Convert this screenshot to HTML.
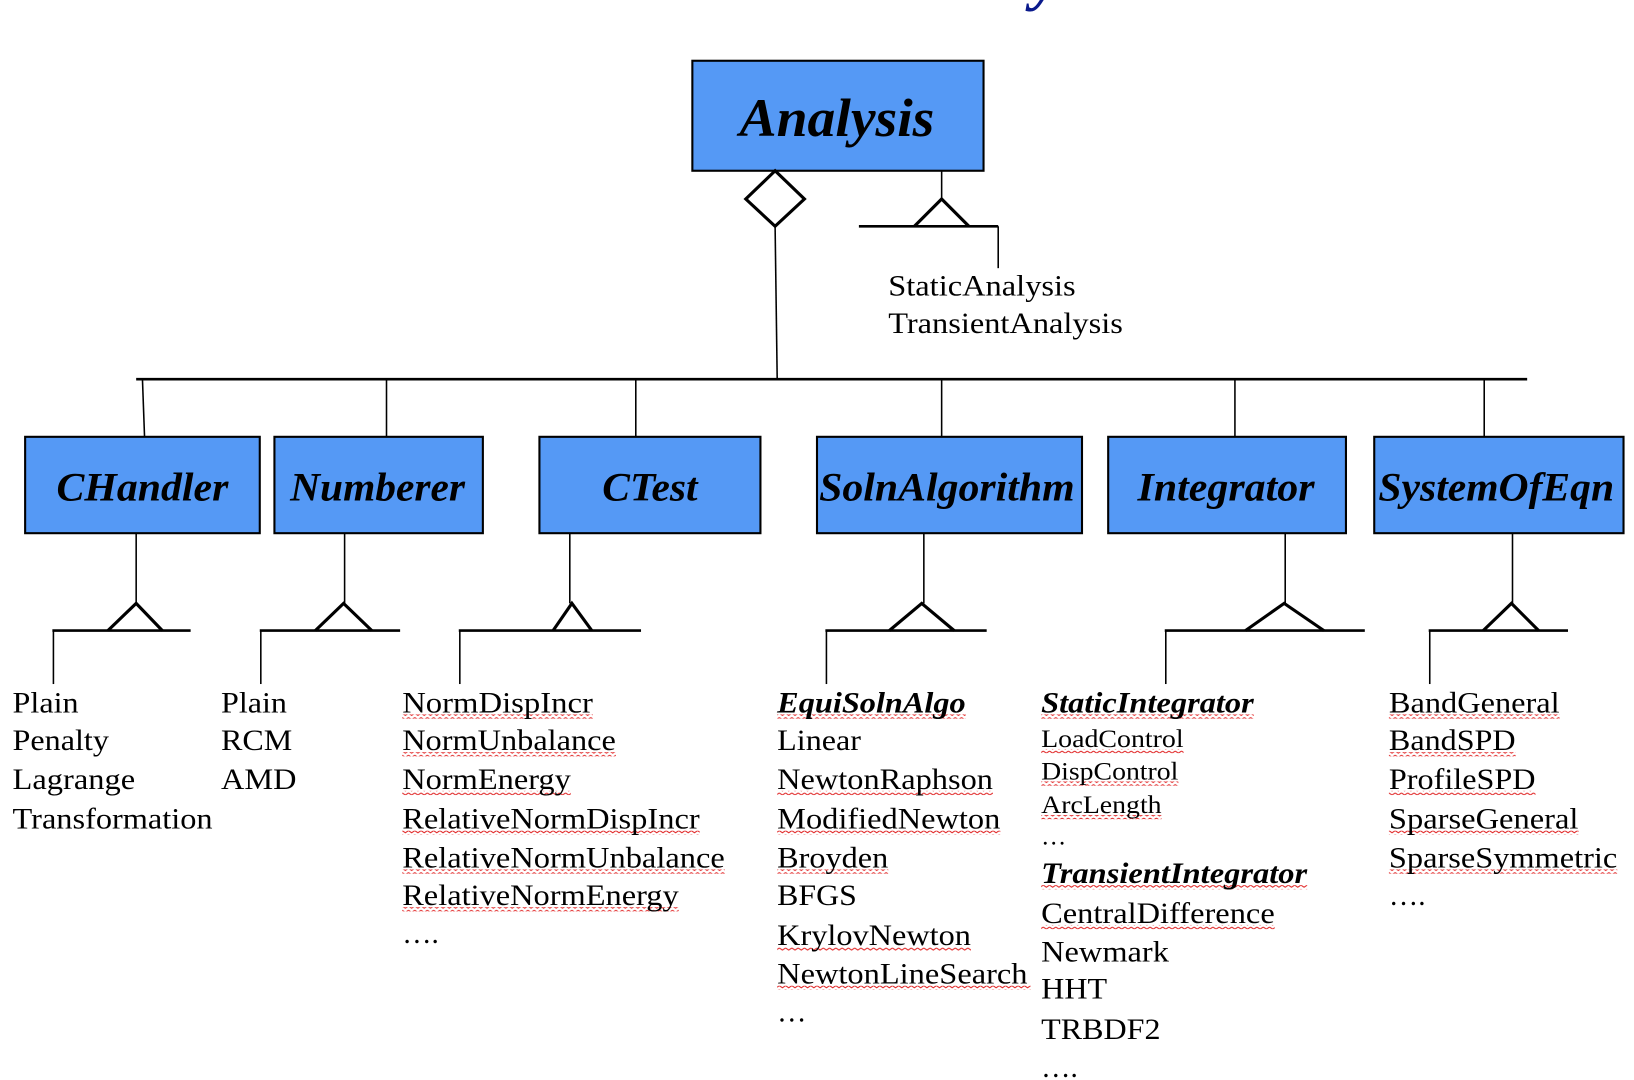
<!DOCTYPE html>
<html><head><meta charset="utf-8"><style>html,body{margin:0;padding:0;background:#fff}svg{display:block}</style></head>
<body>
<svg width="1634" height="1080" viewBox="0 0 1560 1031" preserveAspectRatio="none" xmlns="http://www.w3.org/2000/svg">
<defs>
<pattern id="w" width="6" height="4" patternUnits="userSpaceOnUse"><path d="M0 1 L3 3 L6 1" fill="none" stroke="#e02020" stroke-width="1"/></pattern>
</defs>
<rect width="1560" height="1031" fill="#fff"/>
<text x="985" y="-2" font-family="Liberation Serif, serif" font-style="italic" font-weight="bold" font-size="60" fill="#0a1a8c">y</text>
<g stroke="#000" fill="#5599f5" stroke-width="2">
<rect x="661" y="58" width="278" height="105"/>
<rect x="24" y="417" width="224" height="92"/>
<rect x="262" y="417" width="199" height="92"/>
<rect x="515" y="417" width="211" height="92"/>
<rect x="780" y="417" width="253" height="92"/>
<rect x="1058" y="417" width="227" height="92"/>
<rect x="1312" y="417" width="238" height="92"/>
</g>
<g stroke="#000" fill="none" stroke-width="1.5">
<polygon points="740,163 768,190 740,216 712,190" stroke-width="3" fill="#fff"/>
<line x1="740" y1="216" x2="742" y2="362"/>
<line x1="899" y1="163" x2="899" y2="190"/>
<polyline points="873,216 899,190 925,216" stroke-width="3"/>
<line x1="820" y1="216" x2="953" y2="216" stroke-width="2.5"/>
<line x1="953" y1="216" x2="953" y2="256"/>
<line x1="130" y1="362" x2="1458" y2="362" stroke-width="2.5"/>
<line x1="136" y1="362" x2="138" y2="417"/>
<line x1="369" y1="362" x2="369" y2="417"/>
<line x1="607" y1="362" x2="607" y2="417"/>
<line x1="899" y1="362" x2="899" y2="417"/>
<line x1="1179" y1="362" x2="1179" y2="417"/>
<line x1="1417" y1="362" x2="1417" y2="417"/>
<line x1="130" y1="509" x2="130" y2="576"/><polyline points="103,602 130,576 155,602" stroke-width="3"/><line x1="50" y1="602" x2="182" y2="602" stroke-width="2.5"/><line x1="51" y1="602" x2="51" y2="653"/>
<line x1="329" y1="509" x2="329" y2="576"/><polyline points="301,602 328,576 355,602" stroke-width="3"/><line x1="248" y1="602" x2="382" y2="602" stroke-width="2.5"/><line x1="249" y1="602" x2="249" y2="653"/>
<line x1="544" y1="509" x2="544" y2="576"/><polyline points="528,602 546,576 565,602" stroke-width="3"/><line x1="438" y1="602" x2="612" y2="602" stroke-width="2.5"/><line x1="439" y1="602" x2="439" y2="653"/>
<line x1="882" y1="509" x2="882" y2="576"/><polyline points="849,602 880,576 911,602" stroke-width="3"/><line x1="788" y1="602" x2="942" y2="602" stroke-width="2.5"/><line x1="789" y1="602" x2="789" y2="653"/>
<line x1="1227" y1="509" x2="1227" y2="576"/><polyline points="1189,602 1226,576 1264,602" stroke-width="3"/><line x1="1112" y1="602" x2="1303" y2="602" stroke-width="2.5"/><line x1="1113" y1="602" x2="1113" y2="653"/>
<line x1="1444" y1="509" x2="1444" y2="576"/><polyline points="1416,602 1443,576 1469,602" stroke-width="3"/><line x1="1364" y1="602" x2="1497" y2="602" stroke-width="2.5"/><line x1="1365" y1="602" x2="1365" y2="653"/>
</g>
<g font-family="Liberation Serif, serif" font-style="italic" font-weight="bold" fill="#000" lengthAdjust="spacingAndGlyphs">
<text x="706" y="130" font-size="52" textLength="186" lengthAdjust="spacingAndGlyphs">Analysis</text>
<text x="54" y="478" font-size="38" textLength="164" lengthAdjust="spacingAndGlyphs">CHandler</text>
<text x="277" y="478" font-size="38" textLength="167" lengthAdjust="spacingAndGlyphs">Numberer</text>
<text x="575" y="478" font-size="38" textLength="91" lengthAdjust="spacingAndGlyphs">CTest</text>
<text x="782" y="478" font-size="38" textLength="244" lengthAdjust="spacingAndGlyphs">SolnAlgorithm</text>
<text x="1086" y="478" font-size="38" textLength="169" lengthAdjust="spacingAndGlyphs">Integrator</text>
<text x="1316" y="478" font-size="38" textLength="225" lengthAdjust="spacingAndGlyphs">SystemOfEqn</text>
</g>
<g fill="url(#w)">
<rect x="384" y="682" width="182" height="4"/><rect x="384" y="718" width="204" height="4"/><rect x="384" y="755" width="161" height="4"/><rect x="384" y="793" width="284" height="4"/><rect x="384" y="830" width="308" height="4"/><rect x="384" y="866" width="264" height="4"/>
<rect x="742" y="682" width="180" height="4"/><rect x="742" y="755" width="206" height="4"/><rect x="742" y="793" width="213" height="4"/><rect x="742" y="830" width="106" height="4"/><rect x="742" y="904" width="185" height="4"/><rect x="742" y="941" width="242" height="4"/>
<rect x="994" y="682" width="203" height="4"/><rect x="994" y="715" width="136" height="4"/><rect x="994" y="746" width="131" height="4"/><rect x="994" y="778" width="115" height="4"/><rect x="994" y="845" width="254" height="4"/><rect x="994" y="883" width="223" height="4"/>
<rect x="1326" y="682" width="163" height="4"/><rect x="1326" y="718" width="121" height="4"/><rect x="1326" y="755" width="140" height="4"/><rect x="1326" y="793" width="181" height="4"/><rect x="1326" y="830" width="218" height="4"/>
</g>
<g font-family="Liberation Serif, serif" font-size="28" fill="#000">
<text x="848" y="282" textLength="179" lengthAdjust="spacingAndGlyphs">StaticAnalysis</text>
<text x="848" y="318" textLength="224" lengthAdjust="spacingAndGlyphs">TransientAnalysis</text>
<text x="12" y="680" textLength="63" lengthAdjust="spacingAndGlyphs">Plain</text>
<text x="12" y="716" textLength="92" lengthAdjust="spacingAndGlyphs">Penalty</text>
<text x="12" y="753" textLength="117" lengthAdjust="spacingAndGlyphs">Lagrange</text>
<text x="12" y="791" textLength="191" lengthAdjust="spacingAndGlyphs">Transformation</text>
<text x="211" y="680" textLength="63" lengthAdjust="spacingAndGlyphs">Plain</text>
<text x="211" y="716" textLength="68" lengthAdjust="spacingAndGlyphs">RCM</text>
<text x="211" y="753" textLength="72" lengthAdjust="spacingAndGlyphs">AMD</text>
<text x="384" y="680" textLength="182" lengthAdjust="spacingAndGlyphs">NormDispIncr</text>
<text x="384" y="716" textLength="204" lengthAdjust="spacingAndGlyphs">NormUnbalance</text>
<text x="384" y="753" textLength="161" lengthAdjust="spacingAndGlyphs">NormEnergy</text>
<text x="384" y="791" textLength="284" lengthAdjust="spacingAndGlyphs">RelativeNormDispIncr</text>
<text x="384" y="828" textLength="308" lengthAdjust="spacingAndGlyphs">RelativeNormUnbalance</text>
<text x="384" y="864" textLength="264" lengthAdjust="spacingAndGlyphs">RelativeNormEnergy</text>
<text x="384" y="900">….</text>
<text x="742" y="680" font-weight="bold" font-style="italic" textLength="180" lengthAdjust="spacingAndGlyphs">EquiSolnAlgo</text>
<text x="742" y="716" textLength="80" lengthAdjust="spacingAndGlyphs">Linear</text>
<text x="742" y="753" textLength="206" lengthAdjust="spacingAndGlyphs">NewtonRaphson</text>
<text x="742" y="791" textLength="213" lengthAdjust="spacingAndGlyphs">ModifiedNewton</text>
<text x="742" y="828" textLength="106" lengthAdjust="spacingAndGlyphs">Broyden</text>
<text x="742" y="864" textLength="76" lengthAdjust="spacingAndGlyphs">BFGS</text>
<text x="742" y="902" textLength="185" lengthAdjust="spacingAndGlyphs">KrylovNewton</text>
<text x="742" y="939" textLength="239" lengthAdjust="spacingAndGlyphs">NewtonLineSearch</text>
<text x="742" y="975">…</text>
<text x="994" y="680" font-weight="bold" font-style="italic" textLength="203" lengthAdjust="spacingAndGlyphs">StaticIntegrator</text>
<text x="994" y="713" font-size="24" textLength="136" lengthAdjust="spacingAndGlyphs">LoadControl</text>
<text x="994" y="744" font-size="24" textLength="131" lengthAdjust="spacingAndGlyphs">DispControl</text>
<text x="994" y="776" font-size="24" textLength="115" lengthAdjust="spacingAndGlyphs">ArcLength</text>
<text x="994" y="806" font-size="24">…</text>
<text x="994" y="843" font-weight="bold" font-style="italic" textLength="254" lengthAdjust="spacingAndGlyphs">TransientIntegrator</text>
<text x="994" y="881" textLength="223" lengthAdjust="spacingAndGlyphs">CentralDifference</text>
<text x="994" y="918" textLength="122" lengthAdjust="spacingAndGlyphs">Newmark</text>
<text x="994" y="953" textLength="63" lengthAdjust="spacingAndGlyphs">HHT</text>
<text x="994" y="992" textLength="114" lengthAdjust="spacingAndGlyphs">TRBDF2</text>
<text x="994" y="1028">….</text>
<text x="1326" y="680" textLength="163" lengthAdjust="spacingAndGlyphs">BandGeneral</text>
<text x="1326" y="716" textLength="121" lengthAdjust="spacingAndGlyphs">BandSPD</text>
<text x="1326" y="753" textLength="140" lengthAdjust="spacingAndGlyphs">ProfileSPD</text>
<text x="1326" y="791" textLength="181" lengthAdjust="spacingAndGlyphs">SparseGeneral</text>
<text x="1326" y="828" textLength="218" lengthAdjust="spacingAndGlyphs">SparseSymmetric</text>
<text x="1326" y="864">….</text>
</g>
</svg>
</body></html>
